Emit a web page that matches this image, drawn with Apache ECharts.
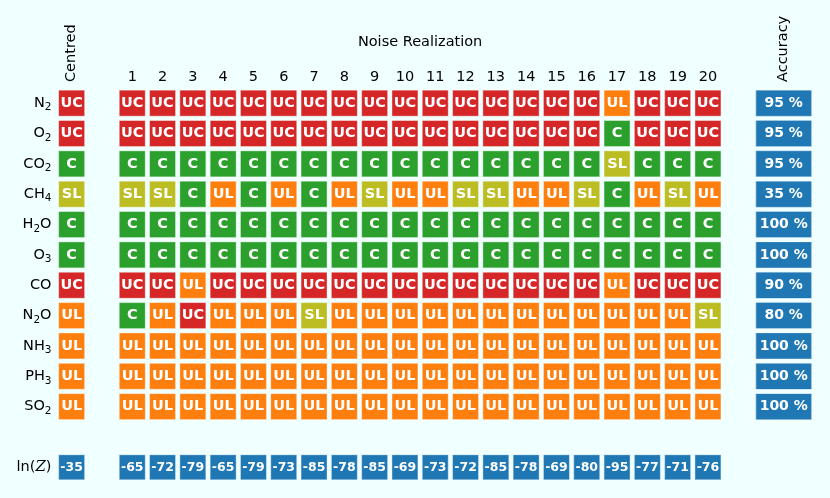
<!DOCTYPE html>
<html>
<head>
<meta charset="utf-8">
<script src="https://cdn.jsdelivr.net/npm/echarts@6/dist/echarts.min.js"></script>
<style>
  html, body { margin: 0; padding: 0; background: #f0ffff; }
  #chart { width: 830px; height: 498px; }
</style>
</head>
<body>
<div id="chart"></div>
<script>
// row names (digits become subscripts)
const molecules = ['N2', 'O2', 'CO2', 'CH4', 'H2O', 'O3', 'CO', 'N2O', 'NH3', 'PH3', 'SO2'];
const noiseLabels = ['1', '2', '3', '4', '5', '6', '7', '8', '9', '10',
    '11', '12', '13', '14', '15', '16', '17', '18', '19', '20'];

// classification of the centred retrieval
const centred = ['UC', 'UC', 'C', 'SL', 'C', 'C', 'UC', 'UL', 'UL', 'UL', 'UL'];

// classification per noise realization
const n2  = ['UC','UC','UC','UC','UC','UC','UC','UC','UC','UC','UC','UC','UC','UC','UC','UC','UL','UC','UC','UC'];
const o2  = ['UC','UC','UC','UC','UC','UC','UC','UC','UC','UC','UC','UC','UC','UC','UC','UC','C','UC','UC','UC'];
const co2 = ['C','C','C','C','C','C','C','C','C','C','C','C','C','C','C','C','SL','C','C','C'];
const ch4 = ['SL','SL','C','UL','C','UL','C','UL','SL','UL','UL','SL','SL','UL','UL','SL','C','UL','SL','UL'];
const h2o = ['C','C','C','C','C','C','C','C','C','C','C','C','C','C','C','C','C','C','C','C'];
const o3  = ['C','C','C','C','C','C','C','C','C','C','C','C','C','C','C','C','C','C','C','C'];
const co  = ['UC','UC','UL','UC','UC','UC','UC','UC','UC','UC','UC','UC','UC','UC','UC','UC','UL','UC','UC','UC'];
const n2o = ['C','UL','UC','UL','UL','UL','SL','UL','UL','UL','UL','UL','UL','UL','UL','UL','UL','UL','UL','SL'];
const nh3 = ['UL','UL','UL','UL','UL','UL','UL','UL','UL','UL','UL','UL','UL','UL','UL','UL','UL','UL','UL','UL'];
const ph3 = ['UL','UL','UL','UL','UL','UL','UL','UL','UL','UL','UL','UL','UL','UL','UL','UL','UL','UL','UL','UL'];
const so2 = ['UL','UL','UL','UL','UL','UL','UL','UL','UL','UL','UL','UL','UL','UL','UL','UL','UL','UL','UL','UL'];
const realizations = [n2, o2, co2, ch4, h2o, o3, co, n2o, nh3, ph3, so2];

const accuracy = [95, 95, 95, 35, 100, 100, 90, 80, 100, 100, 100];

const lnZCentred = -35;
const lnZ = [-65, -72, -79, -65, -79, -73, -85, -78, -85, -69, -73, -72, -85, -78, -69, -80, -95, -77, -71, -76];

const statusColors = { UC: '#d62728', UL: '#ff7f0e', C: '#2ca02c', SL: '#bcbd22' };
const blue = '#1f77b4';
const font = 'DejaVu Sans';

// column layout: 0 = centred, 1 blank, 2..21 = realizations, 22 blank, 23.5 = accuracy
const nCols = 25;
const xCats = [];
for (let i = 0; i < nCols; i++) {
    xCats.push(i >= 2 && i <= 21 ? noiseLabels[i - 2] : '');
}
const lnZRow = molecules.length + 1;
const yCats = molecules.concat(['', 'lnZ']);

// build scatter data
const cellData = [];
molecules.forEach((m, r) => {
    cellData.push({ value: [0, r], status: centred[r], itemStyle: { color: statusColors[centred[r]] } });
    realizations[r].forEach((s, j) => {
        cellData.push({ value: [j + 2, r], status: s, itemStyle: { color: statusColors[s] } });
    });
});
const accData = accuracy.map((a, r) => ({ value: [23.5, r], txt: a + ' %' }));
const lnZData = [{ value: [0, lnZRow], txt: String(lnZCentred) }]
    .concat(lnZ.map((v, j) => ({ value: [j + 2, lnZRow], txt: String(v) })));

const chart = echarts.init(document.getElementById('chart'));

const cellBorder = { opacity: 1, borderColor: 'rgba(255,255,255,0.4)', borderWidth: 1 };

const option = {
    backgroundColor: '#f0ffff',
    animation: false,
    grid: { left: 56.5, right: 16, top: 88, bottom: 15.5 },
    xAxis: [
        {
            type: 'category',
            position: 'top',
            data: xCats,
            axisLine: { show: false },
            axisTick: { show: false },
            splitLine: { show: false },
            axisLabel: { interval: 0, margin: 3, fontSize: 14.5, color: '#000', fontFamily: font }
        },
        {
            type: 'value',
            min: -0.5,
            max: nCols - 0.5,
            show: false
        }
    ],
    yAxis: {
        type: 'category',
        inverse: true,
        data: yCats,
        axisLine: { show: false },
        axisTick: { show: false },
        splitLine: { show: false },
        axisLabel: {
            interval: 0,
            margin: 5,
            fontSize: 14.5,
            lineHeight: 20,
            color: '#000',
            fontFamily: font,
            formatter: v => v === 'lnZ' ? 'ln({z|Z})' : v.replace(/(\d)/g, '{s|$1}'),
            rich: {
                s: { fontSize: 10.5, lineHeight: 11, verticalAlign: 'bottom', color: '#000', fontFamily: font },
                z: { fontSize: 15, fontStyle: 'italic', fontFamily: 'DejaVu Serif', color: '#000' }
            }
        }
    },
    series: [
        {
            type: 'scatter',
            xAxisIndex: 1,
            symbol: 'rect',
            symbolSize: [26, 26],
            data: cellData,
            itemStyle: cellBorder,
            label: {
                show: true, position: 'inside', color: '#fff', fontWeight: 'bold',
                fontSize: 14.5, fontFamily: font,
                formatter: p => p.data.status
            }
        },
        {
            type: 'scatter',
            xAxisIndex: 1,
            symbol: 'rect',
            symbolSize: [56, 26],
            data: accData,
            itemStyle: Object.assign({ color: blue }, cellBorder),
            label: {
                show: true, position: 'inside', color: '#fff', fontWeight: 'bold',
                fontSize: 14, fontFamily: font,
                formatter: p => p.data.txt
            }
        },
        {
            type: 'scatter',
            xAxisIndex: 1,
            symbol: 'rect',
            symbolSize: [26, 25],
            data: lnZData,
            itemStyle: Object.assign({ color: blue }, cellBorder),
            label: {
                show: true, position: 'inside', color: '#fff', fontWeight: 'bold',
                fontSize: 12.5, fontFamily: font,
                formatter: p => p.data.txt
            }
        }
    ]
};

chart.setOption(option);

// header texts placed from the axis scale
const px = i => chart.convertToPixel({ xAxisIndex: 1 }, i);
const headerStyle = { fill: '#000', fontSize: 14.5, fontFamily: font };
chart.setOption({
    graphic: [
        {
            type: 'text', x: (px(2) + px(21)) / 2, y: 42,
            style: Object.assign({ text: 'Noise Realization', align: 'center', verticalAlign: 'middle' }, headerStyle)
        },
        {
            type: 'text', x: px(0), y: 82, rotation: Math.PI / 2,
            style: Object.assign({ text: 'Centred', align: 'left', verticalAlign: 'middle' }, headerStyle)
        },
        {
            type: 'text', x: px(23.5), y: 82, rotation: Math.PI / 2,
            style: Object.assign({ text: 'Accuracy', align: 'left', verticalAlign: 'middle' }, headerStyle)
        }
    ]
});
</script>
</body>
</html>
